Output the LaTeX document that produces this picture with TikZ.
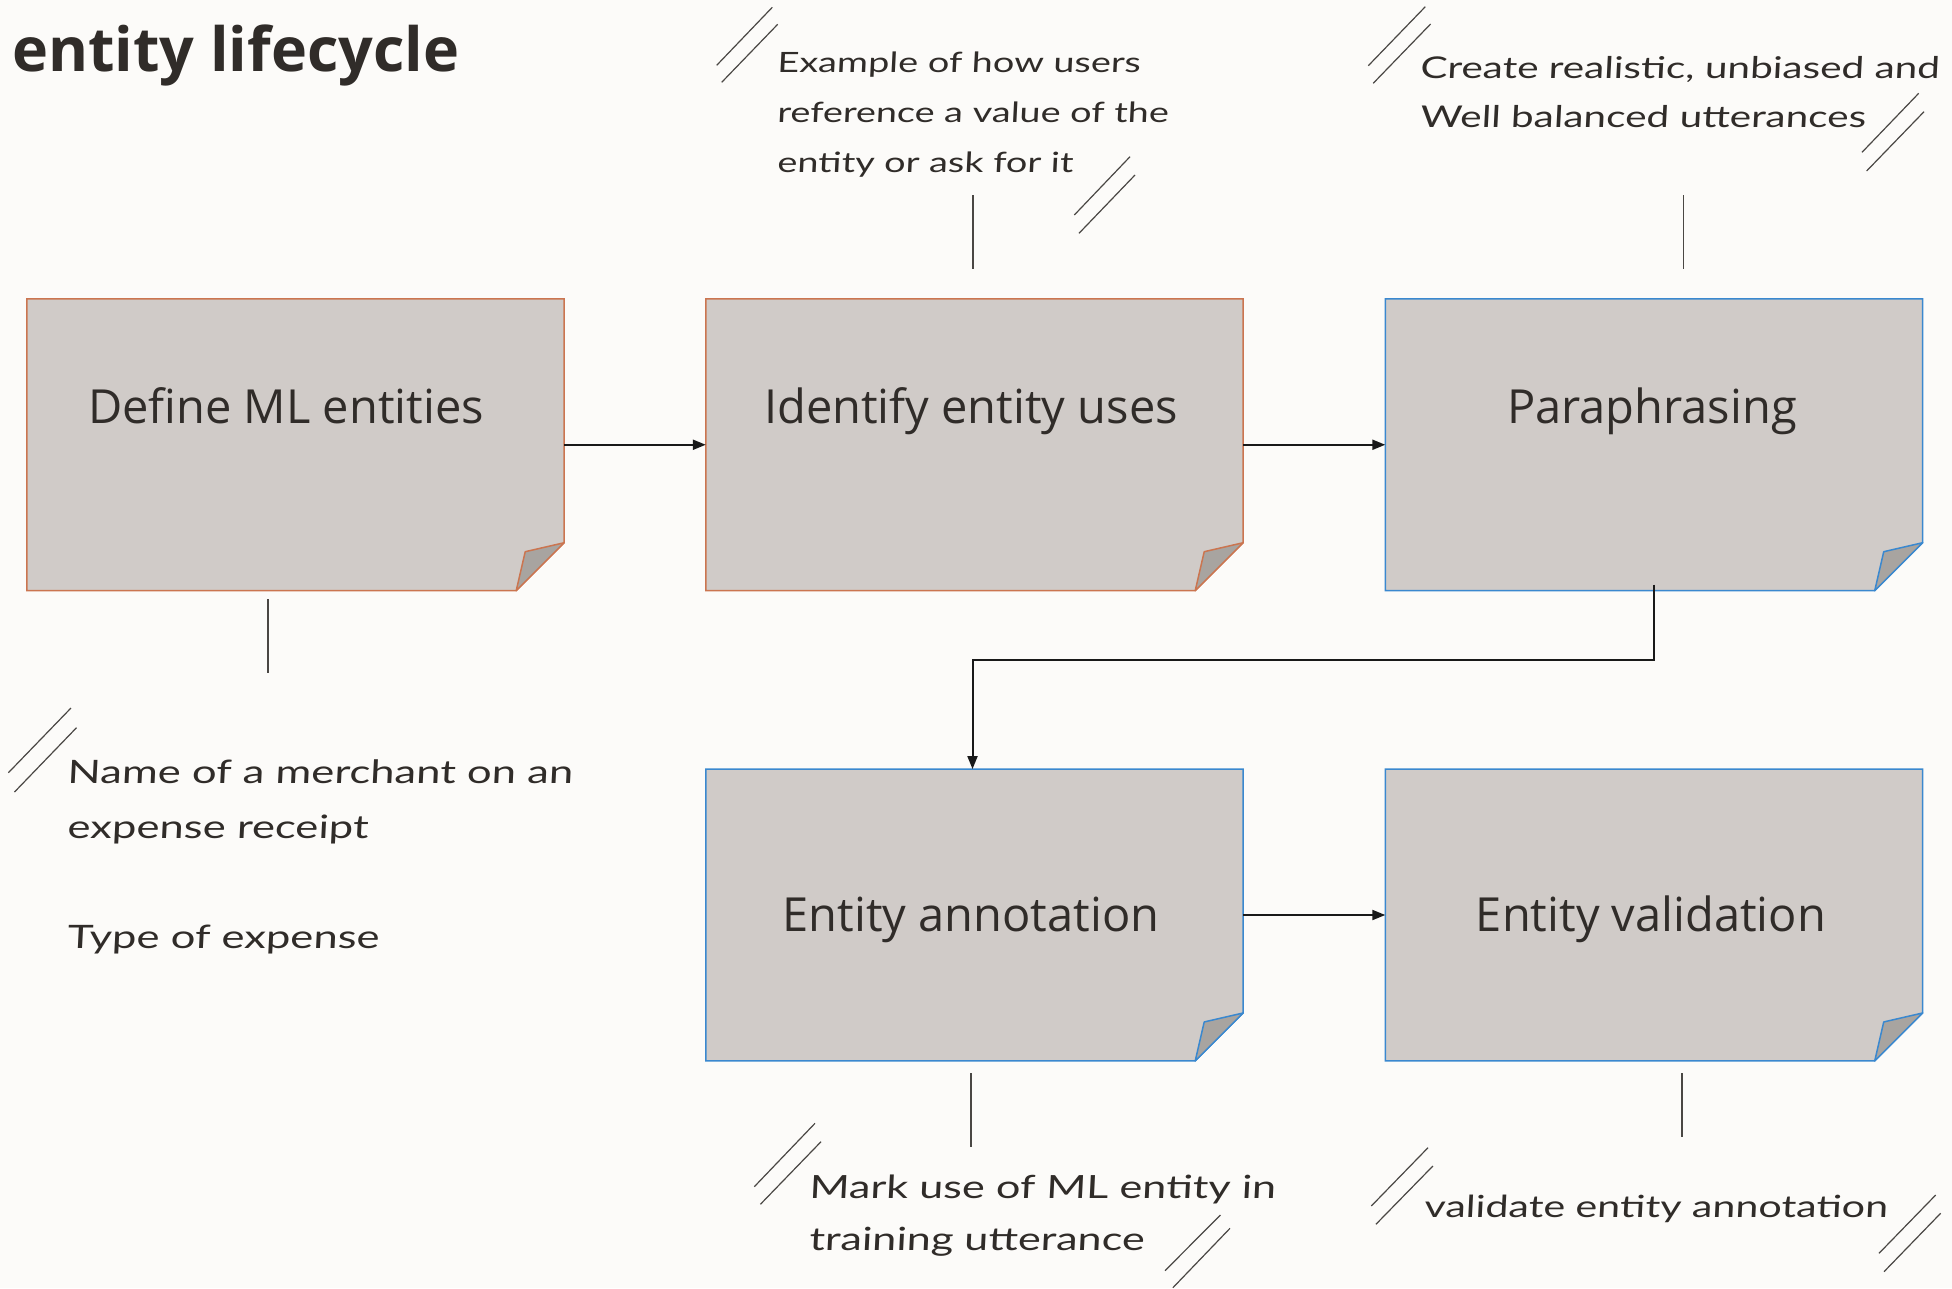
\documentclass[tikz,border=0pt]{standalone}
\usepackage{fontspec}
\setmainfont{Open Sans}
\newfontfamily\hand[FakeStretch=1.35,FakeSlant=0.05]{Lato}
\usetikzlibrary{arrows.meta}
\definecolor{bgc}{HTML}{FCFBF9}
\definecolor{boxfill}{HTML}{D0CBC8}
\definecolor{foldfill}{HTML}{A8A4A0}
\definecolor{orangeb}{HTML}{CB7550}
\definecolor{blueb}{HTML}{3A88CF}
\definecolor{ink}{HTML}{302C29}
\definecolor{stemc}{HTML}{4A4744}
\tikzset{
  boxnode/.style={minimum width=537pt,minimum height=291.5pt,inner sep=0pt,draw=none},
  lbl/.style={anchor=base,inner sep=0pt,text=ink,font=\fontsize{47}{52}\selectfont},
  arr/.style={draw=black!90,line width=2pt,-{Triangle[length=13pt,width=10pt]}},
  stem/.style={draw=stemc,line width=1.4pt},
  hatch/.style={draw=stemc,line width=1.2pt},
  note/.style={anchor=base west,inner sep=0pt,text=ink},
}
\newcommand{\drawnote}[2]{%
  \path[fill=boxfill,draw=#2,line width=1.5pt]
    (#1.north west) -- (#1.north east) -- ([yshift=48pt]#1.south east)
    -- ([xshift=-48pt]#1.south east) -- (#1.south west) -- cycle;
  \path[fill=foldfill,draw=#2,line width=1.5pt,line join=round]
    ([xshift=-48pt]#1.south east) -- ([xshift=-39pt,yshift=39pt]#1.south east)
    -- ([yshift=48pt]#1.south east) -- cycle;
}
\begin{document}
\begin{tikzpicture}[x=1pt,y=-1pt]
\fill[bgc] (0,0) rectangle (1952,1288);
\useasboundingbox (0,0) rectangle (1952,1288);

\node[anchor=base west,inner sep=0pt,text=ink,font=\bfseries\fontsize{61}{70}\selectfont] (title) at (12,71) {entity lifecycle};

% boxes
\node[boxnode] (b1) at (295.5,444.75) {};
\node[boxnode] (b2) at (974.5,444.75) {};
\node[boxnode] (b3) at (1654,444.75) {};
\node[boxnode] (b4) at (974.5,915) {};
\node[boxnode] (b5) at (1654,915) {};
\drawnote{b1}{orangeb}
\drawnote{b2}{orangeb}
\drawnote{b3}{blueb}
\drawnote{b4}{blueb}
\drawnote{b5}{blueb}

\node[lbl] (t1) at (286,423) {Define ML entities};
\node[lbl] (t2) at (971,423) {Identify entity uses};
\node[lbl] (t3) at (1652,423) {Paraphrasing};
\node[lbl] (t4) at (971,931.5) {Entity annotation};
\node[lbl] (t5) at (1651,931.5) {Entity validation};

% connectors
\draw[arr] (b1.east) -- (b2.west);
\draw[arr] (b2.east) -- (b3.west);
\draw[arr] ([yshift=6pt]b3.south) -- (1654,660) -| ([xshift=-2pt]b4.north);
\draw[arr] (b4.east) -- (b5.west);

% stems
\draw[stem] (268,599) -- (268,673);
\draw[stem] (973,195) -- (973,269);
\draw[stem] (1683.5,195) -- (1683.5,269);
\draw[stem] (971,1073) -- (971,1147);
\draw[stem] (1682,1073) -- (1682,1137);

% hatches
\draw[hatch] (772.3,7.3) -- (716.7,65.3);
\draw[hatch] (777.7,24.3) -- (721.7,82.3);
\draw[hatch] (1130,156.7) -- (1074.3,215);
\draw[hatch] (1135,175) -- (1079,233.3);

\draw[hatch] (1425.3,6.7) -- (1368.3,65.7);
\draw[hatch] (1430.6,24) -- (1373.2,83.3);
\draw[hatch] (1918.7,93.3) -- (1862,152.3);
\draw[hatch] (1924,111.7) -- (1866.6,171);

\draw[hatch] (71,708) -- (8.4,772.7);
\draw[hatch] (76.5,727.7) -- (14.5,792);

\draw[hatch] (815,1123.3) -- (754.3,1186.7);
\draw[hatch] (821,1141.7) -- (760.4,1204.3);
\draw[hatch] (1220.4,1215) -- (1165,1270.7);
\draw[hatch] (1230,1228.3) -- (1172.9,1287.7);

\draw[hatch] (1428,1147.7) -- (1371.3,1206);
\draw[hatch] (1432.9,1166) -- (1375.9,1224.3);
\draw[hatch] (1935.7,1195) -- (1879,1253.3);
\draw[hatch] (1940.6,1213.3) -- (1884,1271.7);

% annotations
\node[note] (n2) at (777,72.7) {\hand\fontsize{28}{50}\selectfont
  \vtop{\baselineskip=50pt\hbox{Example of how users}\hbox{reference a value of the}\hbox{entity or ask for it}}};
\node[note] (n3) at (1420,78.3) {\hand\fontsize{30}{50}\selectfont
  \vtop{\baselineskip=49.5pt\hbox{Create realistic, unbiased and}\hbox{Well balanced utterances}}};
\node[note] (n1) at (67,783) {\hand\fontsize{32.3}{55}\selectfont
  \vtop{\baselineskip=55pt\hbox{Name of a merchant on an}\hbox{expense receipt}\hbox{}\hbox{Type of expense}}};
\node[note] (n4) at (809,1198) {\hand\fontsize{32}{52}\selectfont
  \vtop{\baselineskip=52.5pt\hbox{Mark use of ML entity in}\hbox{training utterance}}};
\node[note] (n5) at (1424,1217) {\hand\fontsize{30.5}{52}\selectfont validate entity annotation};
\end{tikzpicture}
\end{document}
